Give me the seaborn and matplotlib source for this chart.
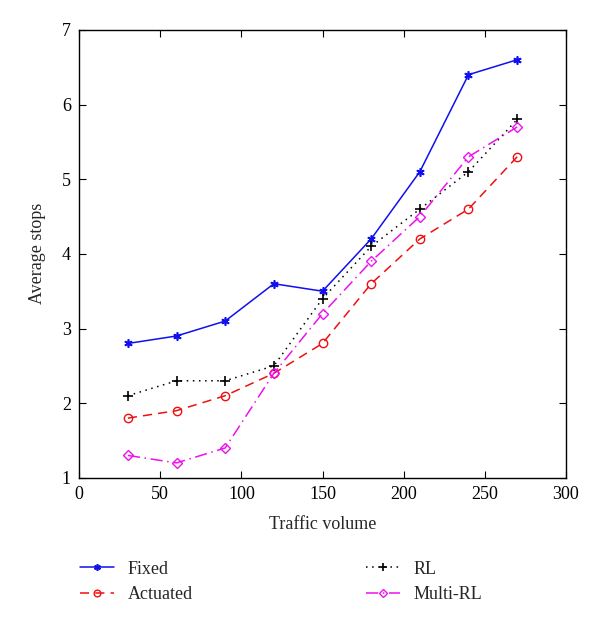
import matplotlib
matplotlib.use("Agg")
import matplotlib.pyplot as plt
import seaborn as sns
import pandas as pd

traffic = [30, 60, 90, 120, 150, 180, 210, 240, 270]
fixed = [2.8, 2.9, 3.1, 3.6, 3.5, 4.2, 5.1, 6.4, 6.6]
actuated = [1.8, 1.9, 2.1, 2.4, 2.8, 3.6, 4.2, 4.6, 5.3]
rl = [2.1, 2.3, 2.3, 2.5, 3.4, 4.1, 4.6, 5.1, 5.8]
multi_rl = [1.3, 1.2, 1.4, 2.4, 3.2, 3.9, 4.5, 5.3, 5.7]
series_names = ["Fixed", "Actuated", "RL", "Multi-RL"]

sns.set_style("ticks")
plt.rcParams['font.family'] = ['Liberation Serif', 'DejaVu Serif']
plt.rcParams['xtick.direction'] = 'in'
plt.rcParams['ytick.direction'] = 'in'

fig = plt.figure(figsize=(6, 6.23), dpi=100)
ax = fig.add_axes([0.132, 0.233, 0.811, 0.719])

styles = {
    "Fixed": dict(color="#1010ee", linestyle="-", marker=(6, 2, 0), markersize=6, mfc="#1010ee", mew=1.2),
    "Actuated": dict(color="#ee1010", linestyle=(0, (6, 4)), marker="o", markersize=6, mfc="none", mew=1.0),
    "RL": dict(color="black", linestyle=(0, (1, 3)), marker="+", markersize=7, mfc="none", mew=1.2),
    "Multi-RL": dict(color="#ee10ee", linestyle=(0, (8, 3, 1, 3)), marker="D", markersize=5.5, mfc="none", mew=1.0),
}
data = {"Fixed": fixed, "Actuated": actuated, "RL": rl, "Multi-RL": multi_rl}

for name in series_names:
    df = pd.DataFrame({"x": traffic, "y": data[name]})
    st = styles[name]
    sns.lineplot(data=df, x="x", y="y", ax=ax, color=st["color"], linestyle=st["linestyle"],
                 marker=st["marker"], markersize=st["markersize"], markerfacecolor=st["mfc"],
                 markeredgecolor=st["color"], markeredgewidth=st["mew"], linewidth=1.1, label=name)

ax.set_xlim(0, 300)
ax.set_ylim(1, 7)
ax.set_xticks(range(0, 301, 50))
ax.set_yticks(range(1, 8))
ax.tick_params(axis='both', which='both', top=True, right=True, labelsize=13, length=5, width=0.8, colors='black')
ax.tick_params(axis='x', pad=6)
ax.tick_params(axis='y', pad=6)
for s in ax.spines.values():
    s.set_visible(True)
    s.set_linewidth(1.0)
    s.set_color('black')
ax.set_xlabel("Traffic volume", fontsize=13, labelpad=9)
ax.set_ylabel("Average stops", fontsize=13, labelpad=11)

ax.get_legend().remove()
handles, labels = ax.get_legend_handles_labels()
fig.legend(handles, labels, ncol=2, loc='upper left', bbox_to_anchor=(0.133, 0.1), frameon=False,
           fontsize=13, columnspacing=9.6, handlelength=1.9, handletextpad=0.75, labelspacing=0.45,
           borderpad=0, borderaxespad=0, markerscale=0.8)

fig.savefig("out.png", dpi=100, facecolor='white')
